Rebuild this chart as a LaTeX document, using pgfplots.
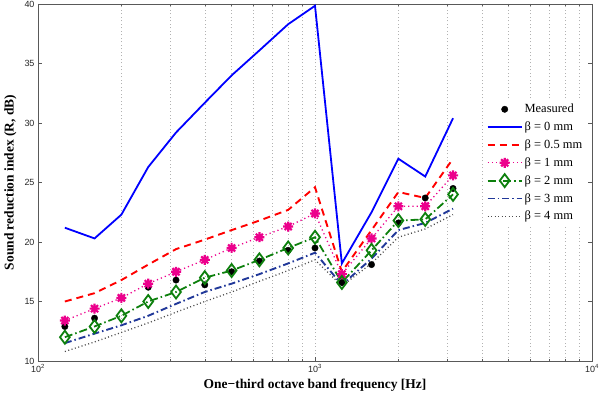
\documentclass[border=0pt]{standalone}
\usepackage{fontspec}
\setmainfont{Liberation Serif}
\newfontfamily\sans{Liberation Sans}
\usepackage{pgfplots}
\usepackage{pgfplotstable}
\pgfplotsset{compat=1.18}
\definecolor{navy}{rgb}{0.13,0.22,0.60}
\definecolor{mgreen}{rgb}{0.05,0.50,0.05}
\pgfdeclareplotmark{mstar}{%
  \pgfpathmoveto{\pgfqpoint{0pt}{\pgfplotmarksize}}\pgfpathlineto{\pgfqpoint{0pt}{-\pgfplotmarksize}}%
  \pgfpathmoveto{\pgfqpoint{\pgfplotmarksize}{0pt}}\pgfpathlineto{\pgfqpoint{-\pgfplotmarksize}{0pt}}%
  \pgfpathmoveto{\pgfqpoint{.707\pgfplotmarksize}{.707\pgfplotmarksize}}\pgfpathlineto{\pgfqpoint{-.707\pgfplotmarksize}{-.707\pgfplotmarksize}}%
  \pgfpathmoveto{\pgfqpoint{.707\pgfplotmarksize}{-.707\pgfplotmarksize}}\pgfpathlineto{\pgfqpoint{-.707\pgfplotmarksize}{.707\pgfplotmarksize}}%
  \pgfusepathqstroke}
\pgfplotstableread{
f     m     b0    b05   b1    b2    b3    b4
125   12.9  21.2  15.0  13.4  12.0  11.5  10.8
160   13.6  20.3  15.7  14.4  12.9  12.3  11.6
200   15.3  22.3  16.8  15.3  13.8  13.0  12.4
250   16.2  26.3  18.1  16.5  15.0  13.8  13.2
315   16.8  29.2  19.4  17.5  15.8  14.8  14.1
400   16.4  31.7  20.2  18.5  17.0  15.8  15.0
500   17.5  34.0  21.0  19.5  17.6  16.5  15.8
630   18.4  36.1  21.8  20.4  18.5  17.3  16.7
800   19.3  38.3  22.7  21.3  19.5  18.2  17.6
1000  19.5  39.85 24.6  22.4  20.4  19.1  18.5
1250  16.6  18.2  17.5  17.3  16.6  16.4  16.3
1600  18.1  22.5  21.0  20.3  19.3  18.6  18.2
2000  21.6  27.0  24.2  23.0  21.8  21.0  20.4
2500  23.7  25.5  23.7  23.0  21.9  21.6  21.1
3150  24.5  30.4  27.0  25.6  24.0  22.8  22.3
}\data
\begin{document}
\begin{tikzpicture}
\begin{axis}[
  xmode=log, xmin=100, xmax=10000, ymin=10, ymax=40,
  scale only axis, width=554bp, height=357bp,
  xtick={100,1000,10000},
  xticklabels={10\textsuperscript{2},10\textsuperscript{3},10\textsuperscript{4}},
  minor xtick={200,300,400,500,600,700,800,900,2000,3000,4000,5000,6000,7000,8000,9000},
  ytick={10,15,20,25,30,35,40},
  xmajorgrids, xminorgrids,
  major grid style={gray!60, dash pattern=on 1bp off 2.5bp},
  minor grid style={gray!60, dash pattern=on 1bp off 2.5bp},
  tick align=inside, major tick length=4bp, minor tick length=2bp,
  axis line style={gray!70!black, line width=0.8bp},
  every tick/.style={gray!70!black},
  ticklabel style={font=\sans\fontsize{9}{10}\selectfont, text=black!85},
  /pgf/number format/assume math mode=true,
  xlabel={One−third octave band frequency [Hz]},
  ylabel={Sound reduction index (R, dB)},
  label style={font=\bfseries\fontsize{13.5}{14}\selectfont},
  xlabel style={at={(axis description cs:0.5,-0.067)}, anchor=center},
  ylabel style={at={(axis description cs:-0.05,0.5)}, anchor=center},
  legend style={at={(axis description cs:0.990,0.731)}, anchor=north east,
    draw=none, fill=white, font=\fontsize{12.5}{13}\selectfont, row sep=3.6bp,
    inner sep=2bp},
  legend cell align=left,
  legend image code/.code={\draw[mark repeat=2,mark phase=2,#1] plot coordinates {(0bp,0bp) (17bp,0bp) (34bp,0bp)};},
]
\addplot[only marks, mark=*, mark size=3.2bp, black] table[x=f,y=m] {\data};
\addlegendentry{Measured}
\addplot[blue, line width=1.8bp] table[x=f,y=b0] {\data};
\addlegendentry{β = 0 mm}
\addplot[red, line width=1.9bp, dash pattern=on 7bp off 5bp] table[x=f,y=b05] {\data};
\addlegendentry{β = 0.5 mm}
\addplot[magenta, line width=1.3bp, dash pattern=on 1.2bp off 3bp, mark=mstar, mark size=5bp, mark options={solid, line width=2.2bp}] table[x=f,y=b1] {\data};
\addlegendentry{β = 1 mm}
\addplot[mgreen, line width=1.8bp, dash pattern=on 8bp off 3bp on 1.5bp off 3bp, mark=diamond, mark size=6.5bp, mark options={solid, line width=1.8bp, fill=none}] table[x=f,y=b2] {\data};
\addlegendentry{β = 2 mm}
\addplot[navy, line width=1.9bp, dash pattern=on 7bp off 3bp on 1.5bp off 3bp] table[x=f,y=b3] {\data};
\addlegendentry{β = 3 mm}
\addplot[black!70, line width=1.3bp, dash pattern=on 1bp off 2.5bp] table[x=f,y=b4] {\data};
\addlegendentry{β = 4 mm}
\end{axis}
\pgfresetboundingbox
\path (-38bp,-38bp) rectangle (562bp,361bp);
\end{tikzpicture}
\end{document}
